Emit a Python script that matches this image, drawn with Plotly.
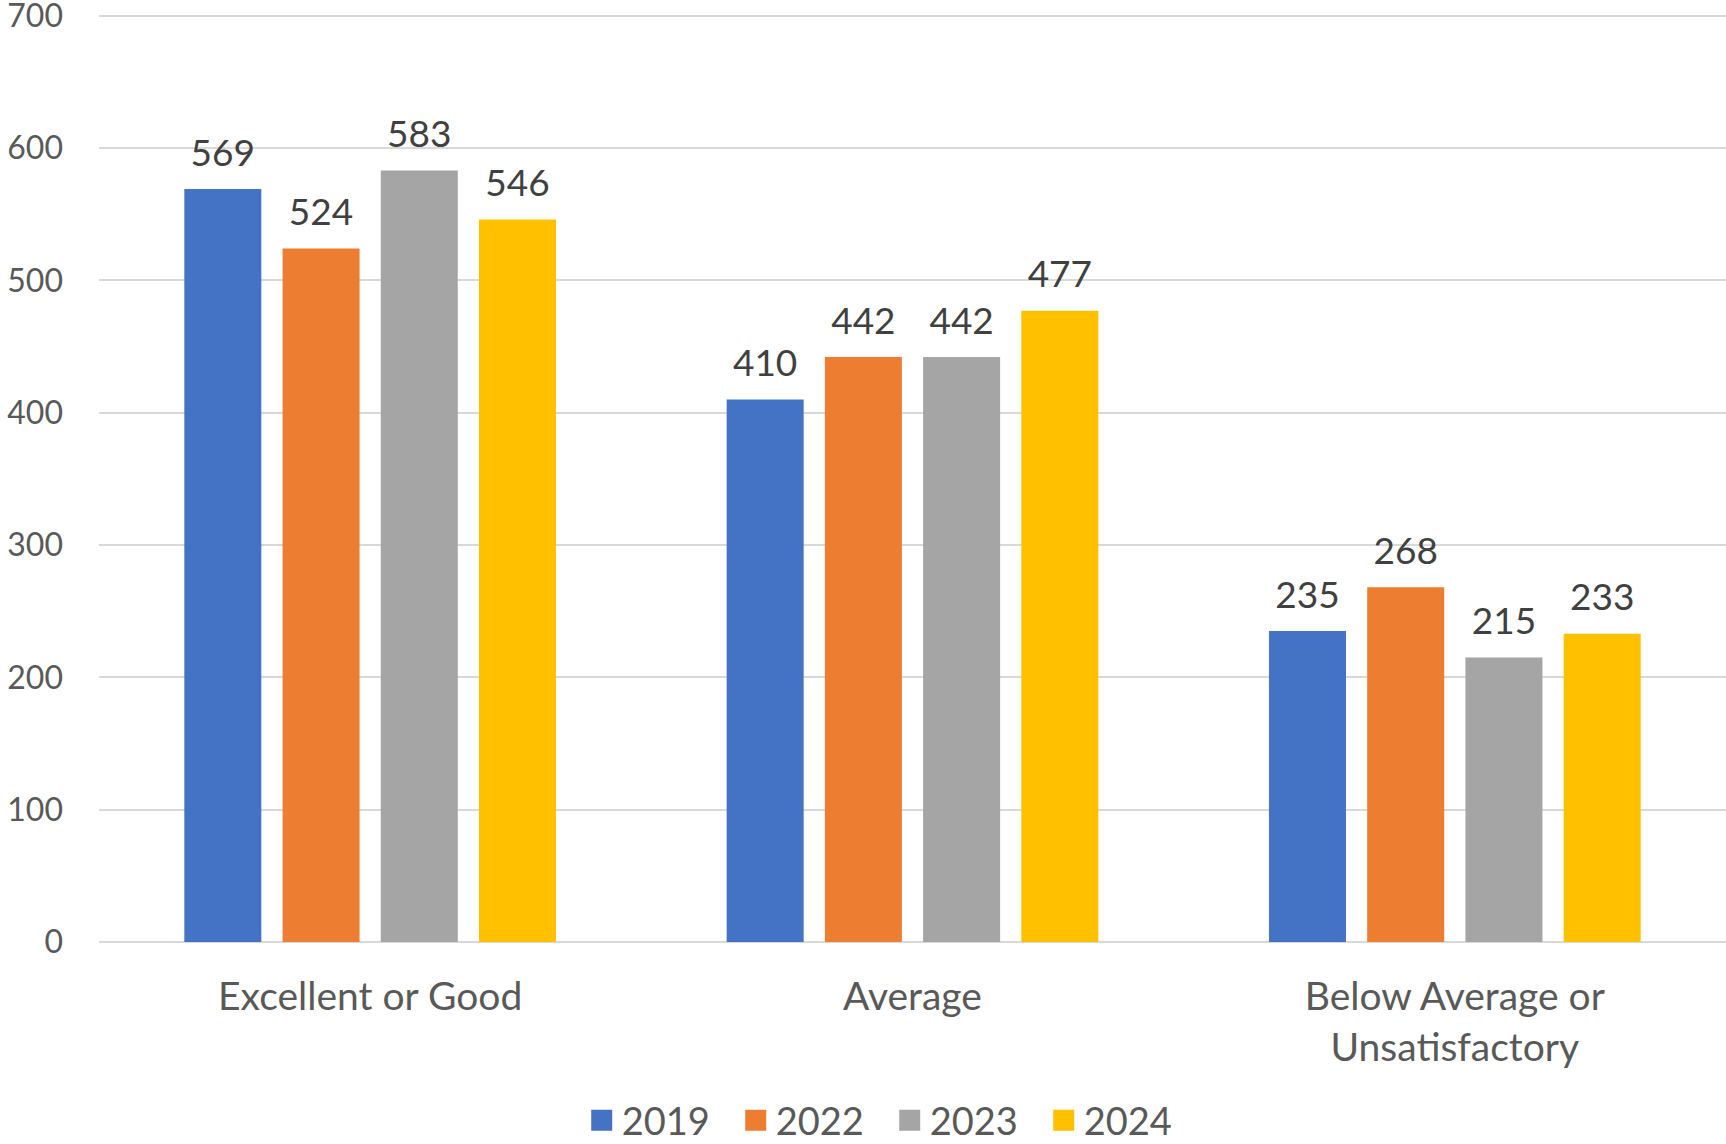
import plotly.graph_objects as go

categories = ["Excellent or Good", "Average", "Below Average or<br>Unsatisfactory"]
series_names = ["2019", "2022", "2023", "2024"]
v2019 = [569, 410, 235]
v2022 = [524, 442, 268]
v2023 = [583, 442, 215]
v2024 = [546, 477, 233]
series_values = [v2019, v2022, v2023, v2024]
colors = ["#4472C4", "#ED7D31", "#A5A5A5", "#FFC000"]
y_ticks = [0, 100, 200, 300, 400, 500, 600, 700]

FONT = "Lato, Calibri, Carlito, sans-serif"

fig = go.Figure()

for name, vals, col in zip(series_names, series_values, colors):
    fig.add_trace(go.Bar(
        x=categories, y=vals, name=name, marker=dict(color=col, line=dict(width=0)),
        offsetgroup=name, showlegend=False, hoverinfo="x+y+name",
    ))

# data labels as grouped text-scatter traces aligned with bars
for name, vals, col in zip(series_names, series_values, colors):
    fig.add_trace(go.Scatter(
        x=categories, y=vals, mode="markers+text", text=[str(v) for v in vals],
        textposition="top center", offsetgroup=name,
        marker=dict(size=21, opacity=0, color=col),
        textfont=dict(family=FONT, size=37, color="#404040"),
        showlegend=False, hoverinfo="skip", cliponaxis=False,
    ))

# legend entries on hidden overlay axes
for name, col in zip(series_names, colors):
    fig.add_trace(go.Scatter(
        x=[None], y=[None], mode="markers", name=name, xaxis="x2", yaxis="y2",
        marker=dict(symbol="square", size=16, color=col, line=dict(color=col, width=5)),
        showlegend=True,
    ))

fig.update_layout(
    width=1726, height=1144,
    margin=dict(l=99, r=0, t=13, b=202, autoexpand=False),
    paper_bgcolor="white", plot_bgcolor="white",
    barmode="group", bargap=0.2755, bargroupgap=0.216,
    scattermode="group", scattergap=0.2755,
    font=dict(family=FONT, size=36, color="#595959"),
    xaxis=dict(
        type="category", showgrid=False, showline=False, zeroline=False,
        tickfont=dict(family=FONT, size=39, color="#595959"),
        ticks="", ticklabelstandoff=28,
    ),
    yaxis=dict(
        range=[0, 702], tickvals=y_ticks, showgrid=True, gridcolor="#D9D9D9", gridwidth=2,
        zeroline=True, zerolinecolor="#D9D9D9", zerolinewidth=2, showline=False,
        tickfont=dict(family=FONT, size=32, color="#595959"), ticks="",
        ticklabelstandoff=35, ticklabeloverflow="allow",
    ),
    xaxis2=dict(overlaying="x", visible=False, range=[0, 1]),
    yaxis2=dict(overlaying="y", visible=False, range=[0, 1]),
    legend=dict(
        orientation="h", x=0.486, xanchor="center",
        yref="container", y=0.0205, yanchor="middle",
        font=dict(family=FONT, size=38, color="#595959"),
        bgcolor="rgba(0,0,0,0)", itemwidth=30,
        entrywidth=109, entrywidthmode="pixels",
    ),
    showlegend=True,
)

fig.write_html("out.html", config={"displayModeBar": False},
               post_script="document.body.style.margin='0';")
